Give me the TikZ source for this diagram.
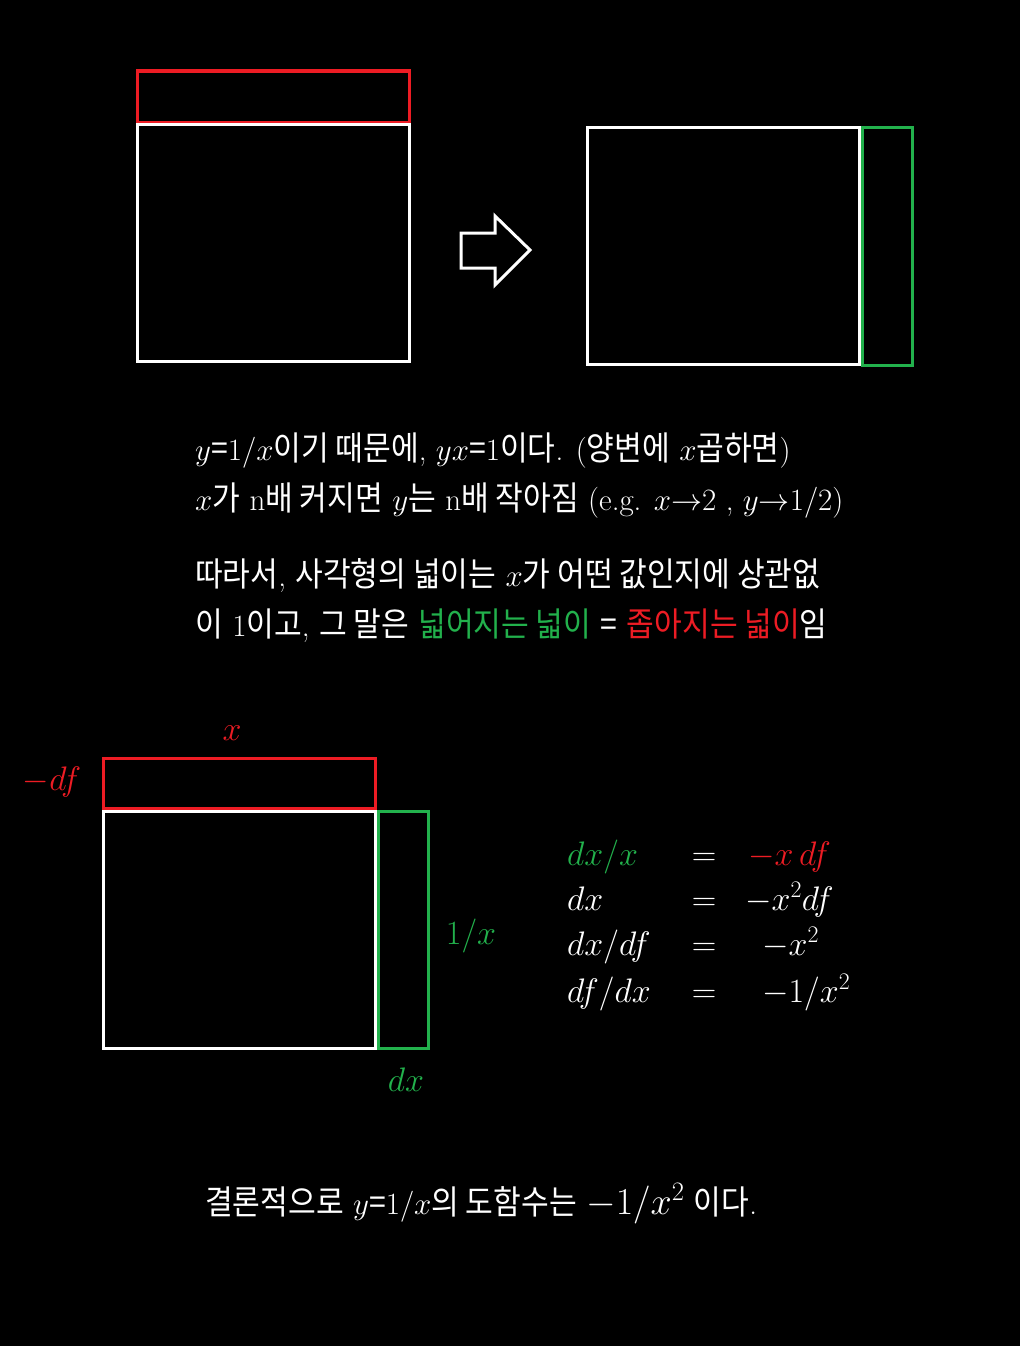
\RequirePackage{fix-cm}
\documentclass[tikz,border=0pt]{standalone}
\usepackage{fontspec}
\newfontfamily\kr[Scale=1.08, FakeStretch=0.9]{Noto Sans CJK KR}
\newcommand{\kor}[1]{{\kr #1}}
\definecolor{hongred}{RGB}{237,28,36}
\definecolor{nokgreen}{RGB}{34,177,76}
\begin{document}
\begin{tikzpicture}[
	x=1pt, y=-1pt,
	line join=miter,
	font=\fontsize{31}{36}\selectfont,
	box/.style={line width=3pt},
	txt/.style={white, anchor=base west, inner sep=0pt},
	lbl/.style={font=\fontsize{34}{40}\selectfont, inner sep=0pt}
	]
	
	% 배경
	\fill[black] (0,0) rectangle (1020,1346);
	
	% 위쪽 왼편 사각형
	\draw[box, hongred] (137,71) rectangle (409,122);
	\draw[box, white] (137,124) rectangle (409,361);
	
	% 화살표
	\draw[box, white] (461,233)--(495,233)--(495,216)--(530,250)--(495,285)--(495,268)--(461,268)--cycle;
	
	% 위쪽 오른편 사각형
	\draw[box, white] (587,127) rectangle (859,364);
	\draw[box, nokgreen] (862,127) rectangle (912,365);
	
	% 설명 글
	\node[txt] (line1) at (195,460) {$y$\kor{=}$1/x$\kor{이기 때문에}, $yx$\kor{=}1\kor{이다}. (\kor{양변에} $x$\kor{곱하면})};
	\node[txt] (line2) at (195,510) {$x$\kor{가} n\kor{배 커지면} $y$\kor{는} n\kor{배 작아짐} (e.g. $x{\rightarrow}2$ , $y{\rightarrow}1/2$)};
	\node[txt] (line3) at (195,586) {\kor{따라서}, \kor{사각형의 넓이는} $x$\kor{가 어떤 값인지에 상관없}};
	\node[txt] (line4) at (195,636) {\kor{이} 1\kor{이고}, \kor{그 말은} \textcolor{nokgreen}{\kor{넓어지는 넓이}} \kor{=} \textcolor{hongred}{\kor{좁아지는 넓이}}\kor{임}};
	
	% 아래쪽 사각형
	\draw[box, hongred] (103,758) rectangle (375,808);
	\draw[box, white] (103,811) rectangle (375,1048);
	\draw[box, nokgreen] (378,811) rectangle (428,1048);
	
	% 변의 길이
	\node[lbl, hongred] (topx) at (232,733) {$x$};
	\node[lbl, hongred] (mdf) at (52,782) {$-df$};
	\node[lbl, nokgreen] (invx) at (471,936) {$1/x$};
	\node[lbl, nokgreen] (dxl) at (406,1080) {$dx$};
	
	% 식
	\foreach \y/\l/\r/\rx in {853/{\textcolor{nokgreen}{dx/x}}/{\textcolor{hongred}{-x\,df}}/748,
		898/{dx}/{-x^2df}/745,
		943/{dx/df}/{-x^2}/762,
		990/{df/dx}/{-1/x^2}/762}
	{
		\node[lbl, white, anchor=base west] at (567,\y+12) {$\l$};
		\node[lbl, white, anchor=base] at (704,\y+12) {$=$};
		\node[lbl, white, anchor=base west] at (\rx,\y+12) {$\r$};
	}
	
	% 결론
	\node[txt] (concl) at (205,1214) {\kor{결론적으로} $y$\kor{=}$1/x$\kor{의 도함수는} {\fontsize{38}{44}\selectfont$-1/x^2$} \kor{이다}.};
	
\end{tikzpicture}
\end{document}
